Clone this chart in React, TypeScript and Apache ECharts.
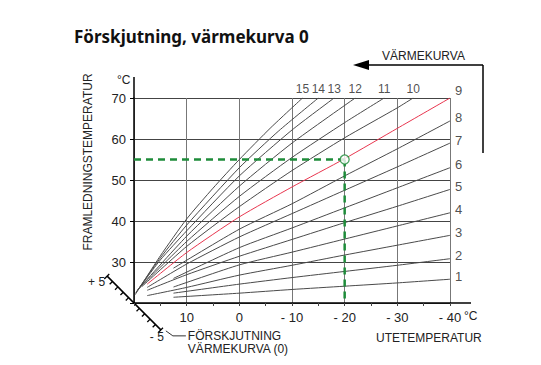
import React, { useEffect, useRef } from "react";
import * as echarts from "echarts";

// Outdoor temperature axis (°C) and flow temperature axis (°C)
const outdoorMin = -40;
const outdoorMax = 20;
const flowMin = 20;
const flowMax = 70;

const curveNames = ["1", "2", "3", "4", "5", "6", "7", "8", "9", "10", "11", "12", "13", "14", "15"];

const curve1 = [[12.5, 21.4], [0, 22.4], [-10, 23.3], [-20, 24.1], [-30, 24.9], [-40, 25.8]];
const curve2 = [[12.5, 22.4], [0, 24.6], [-10, 26.2], [-20, 27.7], [-30, 29.2], [-40, 30.8]];
const curve3 = [[17.5, 21.8], [10, 23.8], [0, 26.8], [-10, 29.2], [-20, 31.7], [-30, 34.1], [-40, 36.5]];
const curve4 = [[12.5, 23.9], [0, 29.3], [-10, 32.4], [-20, 35.6], [-30, 38.8], [-40, 42]];
const curve5 = [[17.5, 23.1], [10, 26.9], [0, 31.4], [-10, 35.5], [-20, 39.6], [-30, 43.6], [-40, 47.7]];
const curve6 = [[12.5, 26], [0, 33.5], [-10, 38.3], [-20, 43.2], [-30, 48.1], [-40, 53]];
const curve7 = [[17.5, 23.8], [10, 29.5], [0, 36.1], [-10, 41.8], [-20, 47.5], [-30, 53.2], [-40, 59]];
const curve8 = [[12.5, 28.5], [0, 38], [-10, 44.2], [-20, 51], [-30, 57.6], [-40, 64.4]];
const curve9 = [[17.5, 24.6], [10, 32.3], [0, 41], [-10, 48.3], [-20, 55.2], [-30, 62.6], [-40, 70]];
const curve10 = [[18.5, 24.0], [10, 33.8], [0, 43.5], [-10, 52.3], [-20, 60.3], [-30, 67.6], [-33, 70]];
const curve11 = [[19, 23.6], [10, 35], [0, 46], [-10, 55.5], [-20, 64], [-27.5, 70]];
const curve12 = [[19.3, 23.2], [10, 36.3], [0, 48.5], [-10, 59], [-22, 70]];
const curve13 = [[19.5, 22.8], [15, 30.5], [10, 37.6], [0, 51], [-10, 62.2], [-18, 70]];
const curve14 = [[19.7, 22.4], [15, 31], [10, 39], [0, 53], [-7.5, 62], [-15, 70]];
const curve15 = [[19.8, 22], [15, 31.5], [10, 40.5], [5, 48], [0, 55], [-6, 62.8], [-12, 70]];

const curves = [curve1, curve2, curve3, curve4, curve5, curve6, curve7, curve8, curve9, curve10, curve11, curve12, curve13, curve14, curve15];
const highlightedCurve = 8; // index of the red curve (9)

// Example reading: outdoor -20 °C -> flow 55 °C
const exampleOutdoor = -20;
const exampleFlow = 55;

const offsetMin = -5;
const offsetMax = 5;

const FONT = "'Liberation Sans', Arial, Helvetica, sans-serif";

export default function App() {
  const ref = useRef<HTMLDivElement>(null);

  useEffect(() => {
    document.body.style.margin = "0";
    const chart = echarts.init(ref.current!, null, { renderer: "svg" });

    const curveSeries = curves.map((c, i) => ({
      type: "line",
      name: curveNames[i],
      data: c,
      symbol: "none",
      smooth: 0.2,
      silent: true,
      z: i === highlightedCurve ? 4 : 3,
      lineStyle: {
        color: i === highlightedCurve ? "#e8364f" : "#4a4a4a",
        width: 1,
      },
    }));

    const labelData = curves.map((c, i) => {
      const end = c[c.length - 1];
      const atTop = i > highlightedCurve;
      return {
        value: end,
        label: {
          show: true,
          formatter: curveNames[i],
          position: atTop ? "top" : "right",
          distance: atTop ? 3 : 5,
          fontSize: atTop ? 12 : 13,
          offset: atTop ? [0, 0] : i === highlightedCurve ? [0, -8] : [0, -3],
        },
      };
    });

    chart.setOption({
      animation: false,
      grid: { left: 134, right: 91, top: 98, bottom: 62 },
      xAxis: {
        type: "value",
        min: outdoorMin,
        max: outdoorMax,
        interval: 10,
        inverse: true,
        axisLine: { show: true, onZero: false, lineStyle: { color: "#000", width: 1.5 } },
        axisTick: { show: true, length: 3, lineStyle: { color: "#444", width: 1 } },
        minorTick: { show: true, splitNumber: 2, length: 3, lineStyle: { color: "#444", width: 1 } },
        axisLabel: {
          color: "#222",
          fontFamily: FONT,
          fontSize: 13,
          margin: 8,
          formatter: (v: number) => (v === outdoorMax ? "" : v < 0 ? `- ${-v}` : `${v}`),
        },
        splitLine: { show: true, lineStyle: { color: "#777", width: 1 } },
      },
      yAxis: {
        type: "value",
        min: flowMin,
        max: flowMax,
        interval: 10,
        axisLine: { show: true, onZero: false, lineStyle: { color: "#000", width: 1.5 } },
        axisTick: { show: true, length: 4, lineStyle: { color: "#000" } },
        axisLabel: {
          color: "#222",
          fontFamily: FONT,
          fontSize: 13,
          margin: 8,
          formatter: (v: number) => (v === flowMin ? "" : `${v}`),
        },
        splitLine: { show: true, lineStyle: { color: "#444", width: 1 } },
      },
      series: [
        ...curveSeries,
        {
          type: "line",
          data: [[outdoorMax, exampleFlow], [exampleOutdoor, exampleFlow]],
          symbol: "none",
          silent: true,
          z: 6,
          lineStyle: { color: "#1e8c3a", width: 2.5, type: [7, 5] },
        },
        {
          type: "line",
          data: [[exampleOutdoor, exampleFlow], [exampleOutdoor, flowMin]],
          symbol: "none",
          silent: true,
          z: 6,
          lineStyle: { color: "#1e8c3a", width: 2.5, type: [7, 5] },
        },
        {
          type: "scatter",
          data: [[exampleOutdoor, exampleFlow]],
          symbol: "circle",
          symbolSize: 9,
          silent: true,
          z: 7,
          itemStyle: { color: "#fff", borderColor: "#1e8c3a", borderWidth: 1.3 },
        },
        {
          type: "scatter",
          data: labelData,
          symbolSize: 0,
          silent: true,
          z: 8,
          label: { color: "#222", fontFamily: FONT, fontSize: 13 },
        },
      ],
    });

    const px = (p: number[]) => chart.convertToPixel({ gridIndex: 0 }, p) as number[];
    const o = px([outdoorMax, flowMin]);
    const top = px([outdoorMax, flowMax]);
    const rightEnd = px([outdoorMin, flowMin]);

    const g: any[] = [];
    const txt = (text: string, x: number, y: number, extra: any = {}) =>
      g.push({
        type: "text",
        x,
        y,
        silent: true,
        style: {
          text,
          fill: "#222",
          font: `12px ${FONT}`,
          textAlign: "left",
          textVerticalAlign: "middle",
          ...extra,
        },
      });
    const ln = (x1: number, y1: number, x2: number, y2: number, w = 1, color = "#000") =>
      g.push({
        type: "line",
        silent: true,
        shape: { x1, y1, x2, y2 },
        style: { stroke: color, lineWidth: w },
      });

    // Title
    txt("Förskjutning, värmekurva 0", 74, 36, {
      font: `bold 17px 'Noto Sans', 'Open Sans', sans-serif`,
      fill: "#111",
    });

    // axis extensions
    ln(o[0], top[1], o[0], top[1] - 21, 1.5);
    ln(rightEnd[0], o[1], rightEnd[0] + 21, o[1], 1.5);

    // axis units and names
    txt("°C", o[0] - 17, top[1] - 18, { font: `12px ${FONT}` });
    txt("°C", rightEnd[0] + 14, o[1] + 13, { font: `12px ${FONT}` });
    txt("UTETEMPERATUR", 376, 338, { font: `12px ${FONT}` });
    g.push({
      type: "text",
      x: 88,
      y: 162,
      rotation: Math.PI / 2,
      silent: true,
      style: {
        text: "FRAMLEDNINGSTEMPERATUR",
        fill: "#222",
        font: `12px ${FONT}`,
        textAlign: "center",
        textVerticalAlign: "middle",
      },
    });

    // VÄRMEKURVA arrow
    const ay = 65;
    ln(366, ay, 483, ay, 1.5);
    ln(483, ay, 483, 153, 1.5);
    g.push({
      type: "polygon",
      silent: true,
      shape: { points: [[353, ay], [369, ay - 5], [369, ay + 5]] },
      style: { fill: "#000" },
    });
    txt("VÄRMEKURVA", 382, 56, { font: `12px ${FONT}` });

    // Offset scale (förskjutning värmekurva)
    const unit = 7.6;
    const s = Math.SQRT1_2;
    const d = [-s, -s];
    const n = [-s, s];
    const pAt = (k: number) => [o[0] + k * unit * d[0], o[1] + k * unit * d[1]];
    const a = pAt(offsetMax);
    const b = pAt(offsetMin);
    ln(a[0], a[1], b[0], b[1], 1.5);
    for (let k = offsetMin; k <= offsetMax; k++) {
      if (k === 0) continue;
      const p = pAt(k);
      const end = Math.abs(k) === offsetMax;
      const l1 = end ? -3 : 0;
      const l2 = 4;
      ln(p[0] + l1 * n[0], p[1] + l1 * n[1], p[0] + l2 * n[0], p[1] + l2 * n[1], 1.3);
    }
    txt("+ 5", a[0] - 2, a[1] + 6, { textAlign: "right", font: `12px ${FONT}` });
    txt("- 5", b[0] - 4, b[1] + 7, { textAlign: "center", font: `12px ${FONT}` });
    g.push({
      type: "polyline",
      silent: true,
      shape: { points: [[b[0] + 5, b[1] + 1], [b[0] + 12, b[1] + 6], [b[0] + 25, b[1] + 6]] },
      style: { stroke: "#333", lineWidth: 1, fill: null },
    });
    txt("FÖRSKJUTNING", b[0] + 27, b[1] + 6, { font: `12px ${FONT}` });
    txt("VÄRMEKURVA (0)", b[0] + 27, b[1] + 19, { font: `12px ${FONT}` });

    chart.setOption({ graphic: g });

    return () => chart.dispose();
  }, []);

  return <div ref={ref} style={{ width: 541, height: 365 }} />;
}
